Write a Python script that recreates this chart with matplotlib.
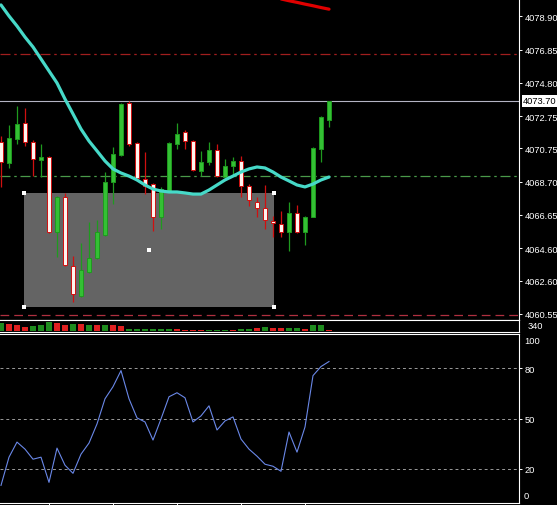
import matplotlib
matplotlib.use('Agg')
import matplotlib.pyplot as plt
from matplotlib.patches import Rectangle

# candles, oldest first
opens = [4071.15, 4069.86, 4071.34, 4072.32, 4071.15, 4070.04, 4070.23, 4065.60, 4067.76, 4063.51,
         4061.66, 4063.14, 4064.00, 4065.42, 4068.68, 4070.35, 4073.56, 4071.09, 4068.87, 4068.56,
         4066.53, 4068.13, 4071.03, 4071.77, 4071.21, 4069.36, 4069.92, 4070.66, 4068.99, 4069.67,
         4069.98, 4068.44, 4067.45, 4067.08, 4066.28, 4066.10, 4065.60, 4066.77, 4065.60, 4066.53,
         4070.72, 4072.51]
highs = [4071.52, 4072.20, 4073.37, 4073.25, 4071.27, 4071.03, 4070.29, 4067.82, 4068.01, 4064.12,
         4064.92, 4066.22, 4066.34, 4069.30, 4070.84, 4073.56, 4073.70, 4071.15, 4070.53, 4068.62,
         4068.38, 4071.15, 4072.32, 4071.89, 4071.27, 4070.60, 4071.15, 4071.03, 4070.10, 4070.23,
         4070.29, 4068.56, 4067.76, 4068.50, 4066.59, 4066.90, 4067.45, 4067.27, 4066.59, 4070.84,
         4072.75, 4073.70]
lows = [4068.38, 4069.55, 4071.03, 4070.90, 4069.05, 4068.99, 4065.57, 4064.06, 4063.51, 4061.29,
        4061.59, 4063.10, 4063.94, 4065.36, 4067.33, 4070.29, 4070.90, 4068.87, 4067.94, 4065.66,
        4065.79, 4068.10, 4070.72, 4070.72, 4069.36, 4069.05, 4069.73, 4069.00, 4068.93, 4069.12,
        4067.76, 4067.20, 4066.53, 4065.79, 4065.29, 4065.29, 4064.43, 4065.55, 4064.80, 4066.50,
        4069.92, 4072.08]
closes = [4069.92, 4071.40, 4072.26, 4071.15, 4070.10, 4070.23, 4065.60, 4067.76, 4063.57, 4061.78,
          4063.26, 4064.00, 4065.60, 4068.68, 4070.41, 4073.49, 4071.03, 4068.93, 4068.44, 4066.53,
          4068.25, 4071.09, 4071.64, 4071.21, 4069.42, 4069.92, 4070.66, 4069.05, 4069.67, 4069.98,
          4068.44, 4067.57, 4067.08, 4066.34, 4066.16, 4065.60, 4066.77, 4065.60, 4066.53, 4070.78,
          4072.69, 4073.70]

ma_fast = [4079.60, 4078.92, 4078.30, 4077.62, 4077.01, 4076.27, 4075.53, 4074.79, 4073.80, 4072.88,
           4071.95, 4071.21, 4070.60, 4069.98, 4069.49, 4069.24, 4069.05, 4068.81, 4068.50, 4068.25,
           4068.13, 4068.07, 4068.07, 4068.01, 4067.94, 4067.94, 4068.19, 4068.50, 4068.81, 4069.05,
           4069.30, 4069.49, 4069.61, 4069.55, 4069.30, 4068.99, 4068.75, 4068.50, 4068.38, 4068.56,
           4068.81, 4068.99]
ma_slow_start = 30
ma_slow = [4080.58, 4080.44, 4080.30, 4080.17, 4080.07, 4079.97, 4079.86, 4079.76, 4079.65, 4079.55,
           4079.44, 4079.34]

volumes = [265, 230, 185, 140, 160, 185, 280, 265, 185, 230, 230, 185, 185, 185, 185, 160, 60, 60, 60, 60,
           60, 60, 60, 40, 25, 25, 40, 40, 40, 25, 60, 60, 80, 140, 100, 100, 80, 80, 60, 185, 185, 20]
vol_up = [1, 0, 0, 0, 1, 1, 1, 0, 0, 1, 0, 1, 0, 1, 0, 0, 1, 1, 1, 1,
          1, 1, 0, 0, 0, 0, 1, 1, 1, 0, 1, 1, 0, 1, 0, 0, 1, 1, 0, 1, 1, 0]

rsi = [10.2, 27.0, 36.0, 31.8, 25.8, 27.0, 12.0, 32.4, 22.2, 17.4, 28.8, 35.4, 46.8, 61.8, 69.0, 78.6,
       61.8, 50.4, 48.0, 37.2, 49.8, 63.0, 65.4, 62.4, 48.0, 51.6, 57.6, 43.2, 48.6, 51.0, 37.8, 31.8,
       27.6, 22.8, 21.6, 18.6, 42.0, 30.0, 45.0, 75.6, 81.0, 84.0]

price_ticks = [4078.90, 4076.85, 4074.80, 4072.75, 4070.75, 4068.70, 4066.65, 4064.60, 4062.60, 4060.55]
rsi_levels = [80, 50, 20]
last_price = 4073.70
red_level = 4076.58
green_level = 4069.05
low_level = 4060.48
box_x = (2.875, 34.125)
box_y = (4060.98, 4068.01)
vol_label = '340'

W, H = 557, 506
fig = plt.figure(figsize=(W / 100, H / 100), dpi=100, facecolor='black')
plt.rcParams['font.family'] = ['Liberation Sans', 'DejaVu Sans']


def px_axes(x0, y0, x1, y1):
    a = fig.add_axes([x0 / W, 1 - y1 / H, (x1 - x0) / W, (y1 - y0) / H])
    a.set_facecolor('black')
    for s in a.spines.values():
        s.set_color('white')
        s.set_linewidth(0.8)
    a.spines['left'].set_visible(False)
    a.yaxis.tick_right()
    a.tick_params(colors='white', labelsize=6.7, length=2.5, width=0.7, pad=1.5)
    a.set_xlim(-0.125, 64.75)
    a.set_xticks([])
    return a


ax = px_axes(0, 0, 519, 320.5)
axv = px_axes(0, 320.5, 519, 333.4)
axr = px_axes(0, 335, 519, 504)
ax.spines['top'].set_visible(False)

# main price window
ax.set_ylim(4060.207, 4079.967)
ax.set_yticks(price_ticks)
ax.set_yticklabels(['%.2f' % p for p in price_ticks])

ax.add_patch(Rectangle((box_x[0], box_y[0]), box_x[1] - box_x[0], box_y[1] - box_y[0],
                       facecolor='#646464', edgecolor='none', zorder=1))
hx = [box_x[0], box_x[1], box_x[0], box_x[1], (box_x[0] + box_x[1]) / 2]
hy = [box_y[0], box_y[0], box_y[1], box_y[1], (box_y[0] + box_y[1]) / 2]
ax.plot(hx, hy, 's', color='white', markersize=2.3, markeredgewidth=0, zorder=6)

ax.axhline(red_level, color='#a01e1e', lw=0.9, dashes=(8, 3, 2, 3), zorder=2)
ax.axhline(green_level, color='#4a9a4a', lw=0.9, dashes=(8, 3, 2, 3), zorder=2)
ax.axhline(low_level, color='#b03040', lw=0.9, dashes=(7, 4), zorder=2)
ax.axhline(last_price, color='#b4b4c4', lw=0.8, zorder=2)

for i in range(len(opens)):
    o, h, l, c = opens[i], highs[i], lows[i], closes[i]
    if c >= o:
        face, edge = '#34c034', '#1f9a1f'
    else:
        face, edge = '#fff4ef', '#d01010'
    ax.vlines(i, l, h, color=edge, lw=0.9, zorder=3)
    ax.bar(i, max(abs(c - o), 0.06), bottom=min(o, c), width=0.62,
           facecolor=face, edgecolor=edge, linewidth=0.7, zorder=4)

ax.plot(range(len(ma_fast)), ma_fast, color='#46d9c8', lw=2.3, zorder=5, solid_capstyle='round')
ax.plot(range(ma_slow_start, ma_slow_start + len(ma_slow)), ma_slow, color='#e00000', lw=2.3,
        zorder=5, solid_capstyle='round')

ax.text(1.0 + 4 / 519, last_price, '%.2f' % last_price, transform=ax.get_yaxis_transform(),
        color='black', fontsize=6.7, va='center', ha='left', clip_on=False,
        bbox=dict(boxstyle='square,pad=0.15', facecolor='white', edgecolor='none'))

# volumes
axv.set_ylim(-44, 360)
axv.set_yticks([])
axv.bar(range(len(volumes)), volumes, width=0.7,
        color=['#1e8c1e' if u else '#e02020' for u in vol_up], zorder=3)
axv.text(1.0 + 9 / 519, 0.5, vol_label, transform=axv.transAxes, color='white',
         fontsize=6.7, va='center', ha='left')

# rsi
axr.set_ylim(-0.3, 100.4)
axr.set_yticks(rsi_levels)
axr.set_yticklabels([str(v) for v in rsi_levels])
for lv in rsi_levels:
    axr.axhline(lv, color='#9a9a9a', lw=0.7, dashes=(3, 3), zorder=2)
axr.plot(range(len(rsi)), rsi, color='#6a88e8', lw=0.8, zorder=3)
axr.text(1.0 + 5 / 519, 96.4, '100', transform=axr.get_yaxis_transform(), color='white',
         fontsize=6.7, va='center', ha='left')
axr.text(1.0 + 5 / 519, 4.1, '0', transform=axr.get_yaxis_transform(), color='white',
         fontsize=6.7, va='center', ha='left')
axr.set_xticks([6, 14, 22, 30, 38])
axr.set_xticklabels([])
axr.tick_params(axis='x', length=2.5, colors='white')

fig.savefig('out.png', dpi=100, facecolor='black')
